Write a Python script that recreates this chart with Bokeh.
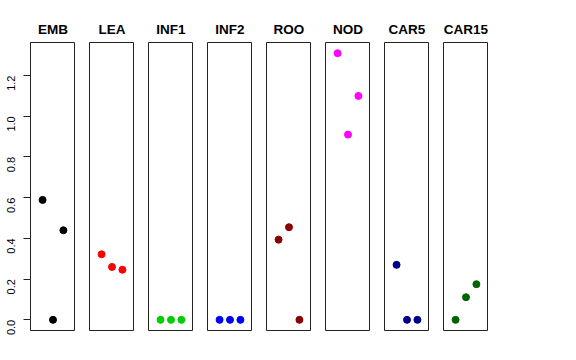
import math
from bokeh.plotting import figure
from bokeh.models import Range1d, FixedTicker, Title
from bokeh.layouts import row
from bokeh.embed import file_html
from bokeh.resources import INLINE

categories = ["EMB", "LEA", "INF1", "INF2", "ROO", "NOD", "CAR5", "CAR15"]
colors = ["#000000", "#FF0000", "#00CD00", "#0000FF", "#8B0000", "#FF00FF", "#00008B", "#006400"]
positions = [1, 2, 3]
values = {
    "EMB": [0.589, 0.0, 0.440],
    "LEA": [0.322, 0.260, 0.246],
    "INF1": [0.0, 0.0, 0.0],
    "INF2": [0.0, 0.0, 0.0],
    "ROO": [0.394, 0.455, 0.0],
    "NOD": [1.310, 0.910, 1.100],
    "CAR5": [0.270, 0.0, 0.0],
    "CAR15": [0.0, 0.111, 0.175],
}
y_ticks = [0.0, 0.2, 0.4, 0.6, 0.8, 1.0, 1.2]
y_tick_labels = {0.0: "0.0", 0.2: "0.2", 0.4: "0.4", 0.6: "0.6", 0.8: "0.8", 1.0: "1.0", 1.2: "1.2"}

ymax = max(max(v) for v in values.values())
ypad = 0.04 * ymax
FONT = "Liberation Sans"

figs = []
for i, cat in enumerate(categories):
    first = i == 0
    p = figure(
        frame_width=45, frame_height=288,
        x_range=Range1d(-0.16, 4.16), y_range=Range1d(-ypad, ymax + ypad),
        output_backend="svg", toolbar_location=None,
        x_axis_location=None, y_axis_location="left" if first else None,
        min_border_left=28 if first else 14, min_border_right=0,
        min_border_top=42, min_border_bottom=10,
        background_fill_color="white", border_fill_color="white",
    )
    t = Title(text=cat, align="center", text_font=FONT, text_font_size="13.5px",
              text_font_style="bold", text_color="black", standoff=12)
    p.add_layout(t, "above")
    p.xgrid.visible = False
    p.ygrid.visible = False
    p.outline_line_color = "#222222"
    p.outline_line_width = 1
    p.outline_line_alpha = 1.0
    if first:
        ax = p.yaxis[0]
        ax.ticker = FixedTicker(ticks=y_ticks)
        ax.major_label_overrides = y_tick_labels
        ax.major_label_orientation = math.pi / 2
        ax.major_tick_out = 7
        ax.major_tick_in = 0
        ax.minor_tick_out = 0
        ax.minor_tick_in = 0
        ax.major_label_standoff = 12
        ax.major_label_text_font = FONT
        ax.major_label_text_font_size = "11px"
        ax.major_label_text_color = "black"
        ax.axis_line_color = "#222222"
        ax.major_tick_line_color = "#222222"
    p.scatter(positions, values[cat], size=7, color=colors[i], line_color=colors[i])
    figs.append(p)

layout = row(*figs, spacing=0)
open("out.html", "w").write(file_html(layout, INLINE))
